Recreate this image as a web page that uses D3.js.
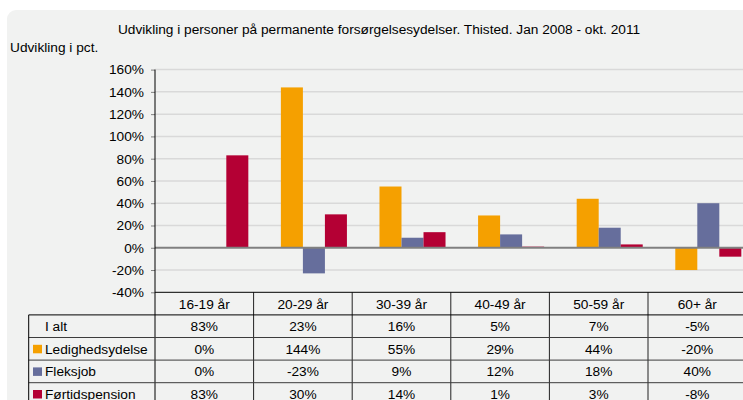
<!DOCTYPE html>
<html>
<head>
<meta charset="utf-8">
<script src="https://cdn.jsdelivr.net/npm/d3@7"></script>
<style>
  body { margin: 0; background: #fff; }
  svg { display: block; font-family: "Liberation Sans", Arial, sans-serif; }
</style>
</head>
<body>
<div id="root"></div>
<script>
const categories = ["16-19 år", "20-29 år", "30-39 år", "40-49 år", "50-59 år", "60+ år"];
const seriesNames = ["I alt", "Ledighedsydelse", "Fleksjob", "Førtidspension"];
const iAlt = [83, 23, 16, 5, 7, -5];
const ledighedsydelse = [0, 144, 55, 29, 44, -20];
const fleksjob = [0, -23, 9, 12, 18, 40];
const foertidspension = [83, 30, 14, 1, 3, -8];
const yTicks = [-40, -20, 0, 20, 40, 60, 80, 100, 120, 140, 160];

const colors = ["none", "#f5a000", "#666e9c", "#b40034"];
const seriesValues = [iAlt, ledighedsydelse, fleksjob, foertidspension];

const outerWidth = 743;
const outerHeight = 400;
const fontSize = "13.7px";

const plot = { left: 155, right: 746.6, top: 69.6, bottom: 292.3 };
const rowHeight = 22.6;
const tableLeft = 28.7;

let svg = d3.select("#root")
            .append("svg")
            .attr("width", outerWidth)
            .attr("height", outerHeight);

// grey panel behind everything
svg.append("rect")
    .attr("x", 7).attr("y", 10)
    .attr("width", 800).attr("height", 450)
    .attr("rx", 9)
    .attr("fill", "#f1f2f1");

let scaleX = d3.scaleBand()
               .domain(categories)
               .range([plot.left, plot.right])
               .paddingInner(0.107)
               .paddingOuter(0.0535);

let scaleSub = d3.scaleBand()
                 .domain(seriesNames)
                 .range([0, scaleX.bandwidth()]);

let scaleY = d3.scaleLinear().domain([-40, 160]).range([plot.bottom, plot.top]);

// gridlines
svg.append("g")
    .selectAll("line")
    .data(yTicks.filter(t => t !== 0 && t !== -40))
    .enter().append("line")
    .attr("x1", plot.left).attr("x2", plot.right)
    .attr("y1", d => scaleY(d)).attr("y2", d => scaleY(d))
    .attr("stroke", "#d9d9d9")
    .attr("stroke-width", 1.5);

// bars
let bars = svg.append("g");
seriesNames.forEach((name, s) => {
    bars.selectAll(".bar-" + s)
        .data(categories.map((c, i) => ({ cat: c, v: seriesValues[s][i] })))
        .enter().append("rect")
        .attr("class", "bar-" + s)
        .attr("x", d => scaleX(d.cat) + scaleSub(name))
        .attr("width", scaleSub.bandwidth())
        .attr("y", d => scaleY(Math.max(0, d.v)))
        .attr("height", d => Math.abs(scaleY(d.v) - scaleY(0)))
        .attr("fill", colors[s]);
});

// zero line
svg.append("line")
    .attr("x1", plot.left).attr("x2", plot.right)
    .attr("y1", scaleY(0)).attr("y2", scaleY(0))
    .attr("stroke", "#808080")
    .attr("stroke-width", 2);

// y axis
let yAxis = d3.axisLeft(scaleY)
              .tickValues(yTicks)
              .tickSize(4)
              .tickPadding(7)
              .tickFormat(d => d + "%");

let yG = svg.append("g")
    .attr("transform", `translate(${plot.left},0)`)
    .call(yAxis);
yG.select(".domain").remove();
yG.selectAll(".tick line").attr("stroke", "#808080");
yG.selectAll(".tick text")
    .style("font-size", fontSize)
    .style("font-family", "'Liberation Sans', Arial, sans-serif")
    .attr("fill", "#000");

let tableBottom = plot.bottom + rowHeight * 5 + 20;

svg.append("line")
    .attr("x1", plot.left).attr("x2", plot.left)
    .attr("y1", plot.top).attr("y2", tableBottom)
    .attr("stroke", "#000");

// data table
let step = scaleX.step();
let colStart = c => scaleX(c) - step * scaleX.paddingInner() / 2;
let table = svg.append("g");

// column separators
table.selectAll(".col-line")
    .data(categories.slice(1).concat(["end"]))
    .enter().append("line")
    .attr("x1", (d, i) => plot.left + step * (i + 1))
    .attr("x2", (d, i) => plot.left + step * (i + 1))
    .attr("y1", plot.bottom).attr("y2", tableBottom)
    .attr("stroke", "#222");

// header top (x axis)
table.append("line")
    .attr("x1", plot.left).attr("x2", plot.right + 10)
    .attr("y1", plot.bottom).attr("y2", plot.bottom)
    .attr("stroke", "#000");

// row lines
d3.range(1, 5).forEach(r => {
    table.append("line")
        .attr("x1", tableLeft)
        .attr("x2", plot.right + 10)
        .attr("y1", plot.bottom + rowHeight * r)
        .attr("y2", plot.bottom + rowHeight * r)
        .attr("stroke", r === 1 ? "#000" : "#3c3c3c");
});

table.append("line")
    .attr("x1", tableLeft).attr("x2", tableLeft)
    .attr("y1", plot.bottom + rowHeight).attr("y2", tableBottom)
    .attr("stroke", "#000");

// header labels
table.selectAll(".head")
    .data(categories)
    .enter().append("text")
    .attr("x", d => colStart(d) + step / 2)
    .attr("y", plot.bottom + rowHeight / 2)
    .attr("dy", "0.36em")
    .attr("text-anchor", "middle")
    .style("font-size", fontSize)
    .text(d => d);

// rows
seriesNames.forEach((name, s) => {
    let rowMid = plot.bottom + rowHeight * (s + 1) + rowHeight / 2;
    if (s > 0) {
        table.append("rect")
            .attr("x", 33).attr("y", rowMid - 4)
            .attr("width", 9).attr("height", 8.5)
            .attr("fill", colors[s]);
    }
    table.append("text")
        .attr("x", 45)
        .attr("y", rowMid)
        .attr("dy", "0.36em")
        .style("font-size", fontSize)
        .text(name);
    table.selectAll(".cell-" + s)
        .data(categories.map((c, i) => ({ cat: c, v: seriesValues[s][i] })))
        .enter().append("text")
        .attr("x", d => colStart(d.cat) + step / 2)
        .attr("y", rowMid)
        .attr("dy", "0.36em")
        .attr("text-anchor", "middle")
        .style("font-size", fontSize)
        .text(d => d.v + "%");
});

// titles
svg.append("text")
    .attr("x", 379)
    .attr("y", 34)
    .attr("text-anchor", "middle")
    .style("font-size", fontSize)
    .text("Udvikling i personer på permanente forsørgelsesydelser. Thisted. Jan 2008 - okt. 2011");

svg.append("text")
    .attr("x", 10)
    .attr("y", 52)
    .style("font-size", fontSize)
    .text("Udvikling i pct.");
</script>
</body>
</html>
